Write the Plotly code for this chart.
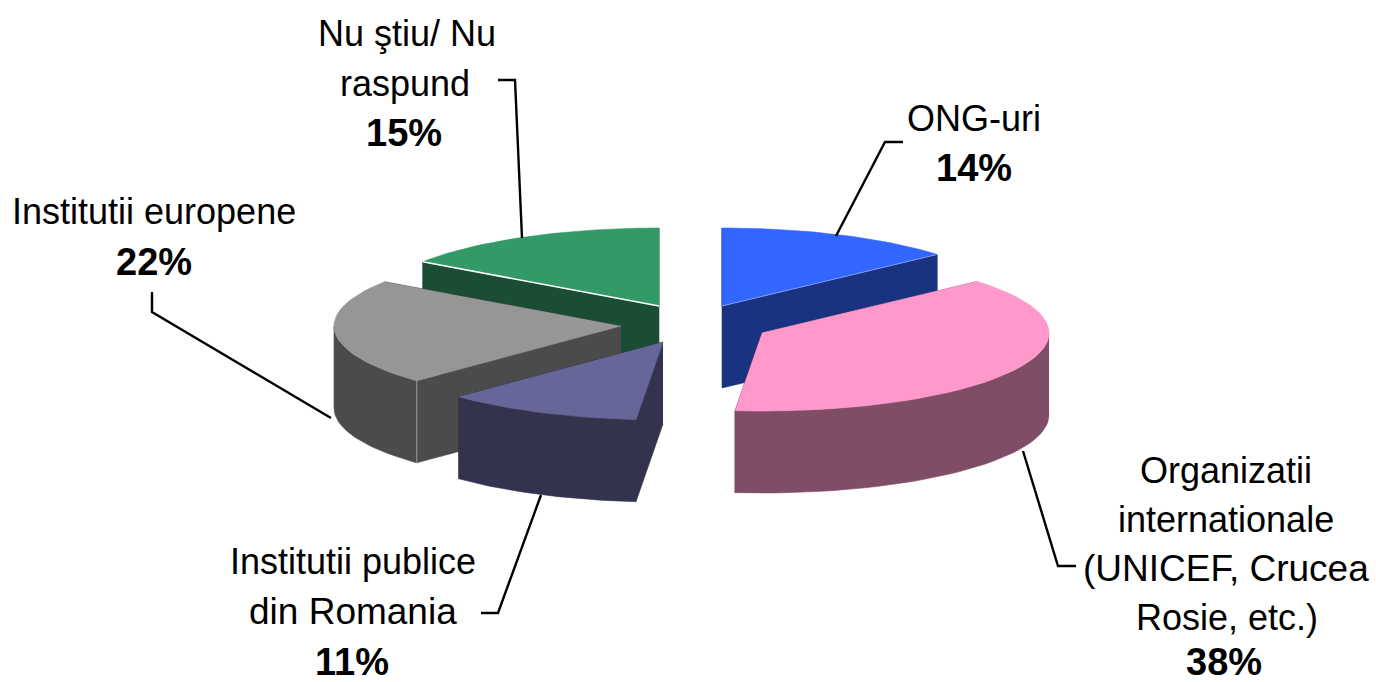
import numpy as np
import plotly.graph_objects as go

# ---- data ----
categories = ["ONG-uri", "Organizatii internationale", "Institutii publice din Romania",
              "Institutii europene", "Nu stiu/ Nu raspund"]
values = [13.5, 38.0, 11.1, 22.0, 15.4]   # slice sizes; labels show them rounded

# ---- styling / layout (separate from the data) ----
top_colors = ["#3366FF", "#FF99CC", "#666699", "#969696", "#339966"]
side_colors = ["#1A3380", "#804D66", "#33334D", "#4B4B4B", "#1A4D33"]
pull_x = [37, 77, -22, -64, -26]
pull_y = [-18, 9, 18, 2, -18]
draw_order = [4, 0, 3, 2, 1]
CX, CY, RX, RY, DEPTH = 685, 324, 287, 78, 82
FONT = 36
BOLD_FONT = 38

label_lines = [
    [("ONG-uri", 974, 118, FONT), (None, 974, 168, BOLD_FONT)],
    [("Organizatii", 1226, 470, FONT), ("internationale", 1226, 519, FONT),
     ("(UNICEF, Crucea", 1226, 568, 37), ("Rosie, etc.)", 1227, 617, FONT), (None, 1224, 662, BOLD_FONT)],
    [("Institutii publice", 353, 561, FONT), ("din Romania", 353, 611, 37), (None, 352, 662, BOLD_FONT)],
    [("Institutii europene", 154, 211, FONT), (None, 154, 262, BOLD_FONT)],
    [("Nu ştiu/ Nu", 407, 33, FONT), ("raspund", 405, 83, FONT), (None, 404, 133, BOLD_FONT)],
]
leader_x = [[903, 885, 836], [1023, 1058, 1076], [481, 498, 541], [152, 152, 331], [498, 515, 522]]
leader_y = [[142, 142, 236], [451, 566, 566], [613, 613, 495], [292, 312, 418], [80, 80, 238]]

fractions = np.array(values) / sum(values)
ends = np.cumsum(fractions) * 2 * np.pi
starts = ends - fractions * 2 * np.pi

fig = go.Figure()


def poly(xs, ys, color):
    fig.add_trace(go.Scatter(
        x=list(xs), y=list(ys), mode="lines", fill="toself", fillcolor=color,
        line=dict(color=color, width=0.6), hoverinfo="skip", showlegend=False))


def edge(xs, ys, color, width):
    fig.add_trace(go.Scatter(x=xs, y=ys, mode="lines", line=dict(color=color, width=width),
                             hoverinfo="skip", showlegend=False))


for i in draw_order:
    ox, oy = CX + pull_x[i], CY + pull_y[i]
    th = np.linspace(starts[i], ends[i], 40)
    ax = ox + RX * np.sin(th)
    ay = oy - RY * np.cos(th)
    # outer wall: only the front-facing part of the rim shows
    lo, hi = max(starts[i], np.pi / 2), min(ends[i], 3 * np.pi / 2)
    if hi > lo:
        wt = np.linspace(lo, hi, 40)
        wx = ox + RX * np.sin(wt)
        wy = oy - RY * np.cos(wt)
        poly(np.r_[wx, wx[::-1]], np.r_[wy, wy[::-1] + DEPTH], side_colors[i])
    for k in (0, -1):
        poly([ox, ax[k], ax[k], ox], [oy, ay[k], ay[k] + DEPTH, oy + DEPTH], side_colors[i])
    poly(np.r_[ox, ax], np.r_[oy, ay], top_colors[i])
    if i == 4:
        edge([ox, ax[0]], [oy, ay[0]], "#FFFFFF", 1.6)
    if i == 3:
        edge([ax[0], ax[0]], [ay[0], ay[0] + DEPTH], "#9A9A9A", 1)
    if i == 0:
        edge([ox, ax[-1]], [oy, ay[-1]], "#8FAAFF", 0.8)

for lx, ly in zip(leader_x, leader_y):
    edge(lx, ly, "#000000", 2.4)

for value, lines in zip(values, label_lines):
    for text, x, y, size in lines:
        shown = f"<b>{round(value)}%</b>" if text is None else text
        fig.add_annotation(x=x, y=y, xref="x", yref="y", text=shown,
                           showarrow=False, xanchor="center", yanchor="middle",
                           font=dict(family="Liberation Sans", size=size, color="#000000"))

fig.update_layout(
    width=1376, height=682, margin=dict(l=0, r=0, t=0, b=0),
    paper_bgcolor="#FFFFFF", plot_bgcolor="#FFFFFF", showlegend=False,
    xaxis=dict(range=[0, 1376], visible=False, fixedrange=True),
    yaxis=dict(range=[682, 0], visible=False, fixedrange=True),
)
fig.write_html("out.html", config={"displayModeBar": False},
               post_script="document.body.style.margin='0';document.body.style.overflow='hidden';")
